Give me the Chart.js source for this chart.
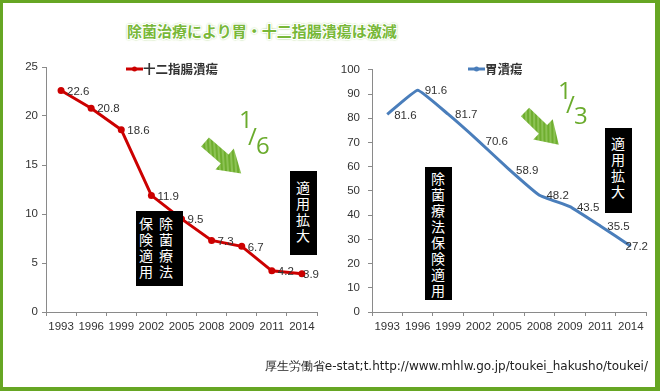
<!DOCTYPE html>
<html>
<head>
<meta charset="utf-8">
<script src="https://cdn.jsdelivr.net/npm/chart.js@4.4.1/dist/chart.umd.min.js"></script>
<style>
  html, body { margin: 0; padding: 0; background: #fff; }
  #frame {
    position: relative; width: 660px; height: 391px; box-sizing: border-box;
    border-style: solid; border-color: #66a623;
    border-width: 3px 5px 4px 3px; background: #fff; overflow: hidden;
    font-family: "Liberation Sans", Arial, sans-serif;
  }
  .abs { position: absolute; }
  #title {
    left: 124px; top: 17px; font: bold 15px "Noto Sans CJK JP", sans-serif;
    color: #78b838; white-space: nowrap;
    text-shadow: 1px 0 #fff, -1px 0 #fff, 0 1px #fff, 0 -1px #fff,
      1px 1px #fff, -1px -1px #fff, 1px -1px #fff, -1px 1px #fff,
      0 0 2px #6aaa2c, 0 0 2px #6aaa2c, 0 0 3px #8cc455;
  }
  .box {
    background: #000; color: #fff; writing-mode: vertical-rl;
    font: 14px "Noto Sans CJK JP", sans-serif; letter-spacing: 2px;
    line-height: 20px; box-sizing: border-box; text-align: start;
  }
  .frac { color: #6aab2c; font: 500 24px "Open Sans", sans-serif; line-height: 1; }
  #source {
    right: 7px; top: 355px; font: 12px "DejaVu Sans", sans-serif; color: #222;
    white-space: nowrap;
  }
</style>
</head>
<body>
<div id="frame">
  <div id="title" class="abs">除菌治療により胃・十二指腸潰瘍は激減</div>

  <canvas id="left-chart" class="abs" style="left:1px;top:52px;width:326px;height:290px" width="326" height="290"></canvas>
  <canvas id="right-chart" class="abs" style="left:332px;top:52px;width:320px;height:290px" width="320" height="290"></canvas>

  <!-- left notes -->
  <div class="abs box" style="left:133px;top:208px;width:47px;height:75px;padding:6px 7px 0 0">除菌療法 保険適用</div>
  <div class="abs box" style="left:287px;top:168px;width:27px;height:84px;padding:10px 4px 0 0">適用拡大</div>
  <!-- right notes -->
  <div class="abs box" style="left:422px;top:164px;width:27px;height:133px;padding:5px 4px 0 0">除菌療法保険適用</div>
  <div class="abs box" style="left:602px;top:125px;width:27px;height:85px;padding:9px 4px 0 0">適用拡大</div>

  <svg class="abs" style="left:0;top:0" width="655" height="387">
    <defs>
      <pattern id="stripe" width="4" height="4" patternUnits="userSpaceOnUse" patternTransform="rotate(-45)">
        <rect width="4" height="4" fill="#6fae2f"/>
        <rect width="2" height="4" fill="#8cc254"/>
      </pattern>
    </defs>
    <g transform="translate(202,139) rotate(41)">
      <polygon points="0,-6 26,-6 26,-14 48,0 26,14 26,6 0,6" fill="url(#stripe)"/>
    </g>
    <g transform="translate(522,109) rotate(44)">
      <polygon points="0,-6 25,-6 25,-14 47,0 25,14 25,6 0,6" fill="url(#stripe)"/>
    </g>
  </svg>

  <div class="abs frac" style="left:236px;top:104px">1</div>
  <div class="abs frac" style="left:245px;top:121px">/</div>
  <div class="abs frac" style="left:253px;top:130px">6</div>
  <div class="abs frac" style="left:555px;top:75px">1</div>
  <div class="abs frac" style="left:563px;top:89px">/</div>
  <div class="abs frac" style="left:571px;top:100px">3</div>

  <div id="source" class="abs">厚生労働省e-stat;t.http://www.mhlw.go.jp/toukei_hakusho/toukei/</div>
</div>

<script>
// survey years (x categories)
var years = ['1993', '1996', '1999', '2002', '2005', '2008', '2009', '2011', '2014'];
// 十二指腸潰瘍
var duodenalName = '十二指腸潰瘍';
var duodenal = [22.6, 20.8, 18.6, 11.9, 9.5, 7.3, 6.7, 4.2, 3.9];
// 胃潰瘍
var gastricName = '胃潰瘍';
var gastric = [81.6, 91.6, 81.7, 70.6, 58.9, 48.2, 43.5, 35.5, 27.2];
// y axis ranges
var leftMax = 25, leftStep = 5;
var rightMax = 100, rightStep = 10;

// value labels to the right of each point
var valueLabels = {
  id: 'valueLabels',
  afterDatasetsDraw: function (chart, args, opts) {
    var c = chart.ctx, area = chart.chartArea;
    var ds = chart.data.datasets[0];
    c.save();
    c.font = '11.5px "Liberation Sans", Arial, sans-serif';
    c.fillStyle = '#333';
    c.textBaseline = 'middle';
    chart.getDatasetMeta(0).data.forEach(function (pt, i) {
      var txt = String(ds.data[i]);
      var w = c.measureText(txt).width;
      var x = pt.x + opts.dx;
      if (x + w > area.right + 2) x = area.right + 2 - w;
      c.fillText(txt, x, pt.y + 1);
    });
    c.restore();
  }
};

// small legend line with the series name
var lineLegend = {
  id: 'lineLegend',
  afterDraw: function (chart, args, opts) {
    var c = chart.ctx, ds = chart.data.datasets[0];
    var x = opts.x, y = opts.y;
    c.save();
    c.strokeStyle = ds.borderColor;
    c.lineWidth = 3;
    c.beginPath(); c.moveTo(x, y); c.lineTo(x + 17, y); c.stroke();
    c.fillStyle = ds.borderColor;
    c.beginPath(); c.arc(x + 8.5, y, 2.5, 0, Math.PI * 2); c.fill();
    c.font = 'bold 12.5px "Noto Sans CJK JP", sans-serif';
    c.fillStyle = '#333';
    c.textBaseline = 'middle';
    c.fillText(ds.label, x + 17, y);
    c.restore();
  }
};

function makeOptions(max, step, yWidth, yPad, padRight, labelDx, legendX) {
  return {
    responsive: false,
    animation: false,
    layout: { padding: { top: 12, right: padRight, left: 0, bottom: 0 } },
    plugins: {
      legend: { display: false },
      tooltip: { enabled: false },
      valueLabels: { dx: labelDx },
      lineLegend: { x: legendX, y: 14 }
    },
    scales: {
      x: {
        offset: true,
        grid: { offset: true, drawOnChartArea: false, color: '#8a8a8a', tickLength: 4 },
        border: { color: '#8a8a8a' },
        ticks: { color: '#333', padding: 4, maxRotation: 0, autoSkip: false,
                 font: { family: '"Liberation Sans", Arial, sans-serif', size: 11.5 } },
        afterFit: function (s) { s.height = 33; }
      },
      y: {
        min: 0, max: max,
        grid: { drawOnChartArea: false, color: '#8a8a8a', tickLength: 4 },
        border: { color: '#8a8a8a' },
        ticks: { stepSize: step, color: '#333', padding: yPad,
                 font: { family: '"Liberation Sans", Arial, sans-serif', size: 11.5 } },
        afterFit: function (s) { s.width = yWidth; }
      }
    }
  };
}

new Chart(document.getElementById('left-chart').getContext('2d'), {
  type: 'line',
  data: {
    labels: years,
    datasets: [{
      label: duodenalName,
      data: duodenal,
      borderColor: '#cc0000',
      backgroundColor: '#cc0000',
      borderWidth: 3,
      pointRadius: 3.5,
      pointBorderWidth: 0,
      tension: 0
    }]
  },
  options: makeOptions(leftMax, leftStep, 42, 4, 13, 6, 122),
  plugins: [valueLabels, lineLegend]
});

new Chart(document.getElementById('right-chart').getContext('2d'), {
  type: 'line',
  data: {
    labels: years,
    datasets: [{
      label: gastricName,
      data: gastric,
      borderColor: '#4a7ebb',
      backgroundColor: '#4a7ebb',
      borderWidth: 3,
      pointRadius: 0,
      tension: 0.1
    }]
  },
  options: makeOptions(rightMax, rightStep, 37, 8, 9, 7, 133),
  plugins: [valueLabels, lineLegend]
});
</script>
</body>
</html>
